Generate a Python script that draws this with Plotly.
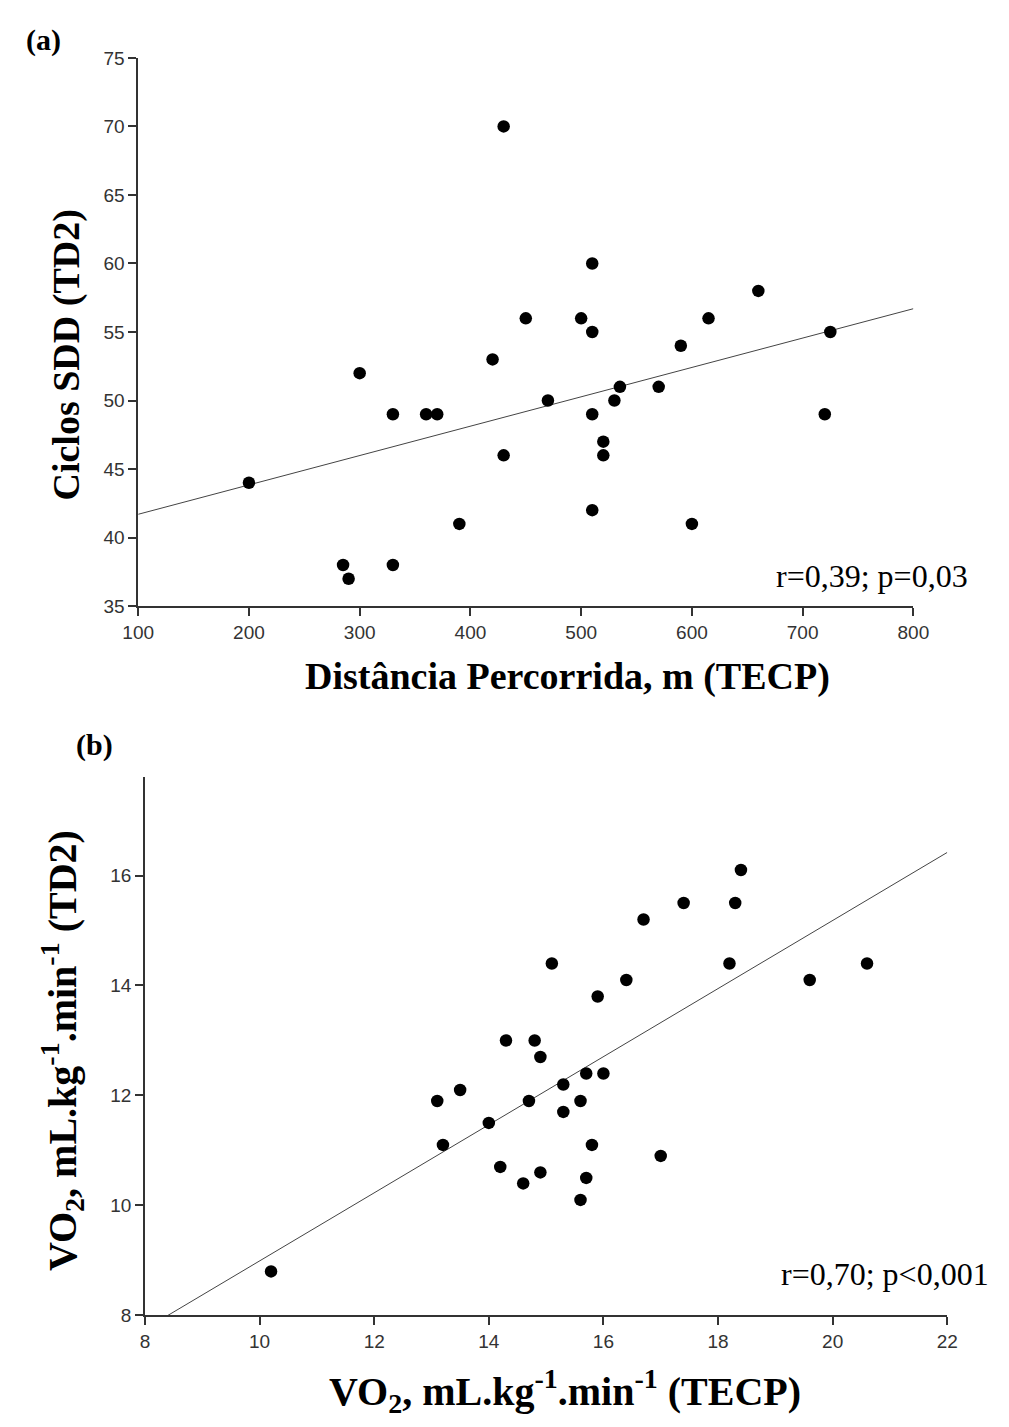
import plotly.graph_objects as go

# Panel (a)
dist_m = [200, 285, 290, 300, 330, 330, 360, 370, 390, 420, 430, 430, 450, 470, 500,
          510, 510, 510, 510, 520, 520, 530, 535, 570, 590, 600, 615, 660, 720, 725]
ciclos_sdd = [44, 38, 37, 52, 49, 38, 49, 49, 41, 53, 70, 46, 56, 50, 56,
              60, 55, 49, 42, 47, 46, 50, 51, 51, 54, 41, 56, 58, 49, 55]
fit_a_x = [100, 800]
fit_a_y = [41.7, 56.7]

# Panel (b)
vo2_tecp = [18.4, 17.4, 18.3, 16.7, 15.1, 18.2, 20.6, 16.4, 19.6, 15.9, 14.3, 14.8,
            14.9, 15.7, 16.0, 15.3, 13.1, 13.5, 14.7, 15.6, 15.3, 14.0, 13.2, 15.8,
            17.0, 14.2, 14.9, 14.6, 15.7, 15.6, 10.2]
vo2_td2 = [16.1, 15.5, 15.5, 15.2, 14.4, 14.4, 14.4, 14.1, 14.1, 13.8, 13.0, 13.0,
           12.7, 12.4, 12.4, 12.2, 11.9, 12.1, 11.9, 11.9, 11.7, 11.5, 11.1, 11.1,
           10.9, 10.7, 10.6, 10.4, 10.5, 10.1, 8.8]
fit_b_x = [8.4, 22.0]
fit_b_y = [8.0, 16.42]

# page is 1009x1427; the browser adds an 8px body margin around the figure
MARGIN = 8
W, H = 1009 - 2 * MARGIN, 1427 - 2 * MARGIN
SERIF = "Liberation Serif, Times New Roman, serif"
SANS = "Liberation Sans, Arial, sans-serif"


def px(x):
    return (x - MARGIN) / W


def py(y):
    return 1 - (y - MARGIN) / H


fig = go.Figure()
fig.add_trace(go.Scatter(x=fit_a_x, y=fit_a_y, mode="lines",
                         line=dict(color="#444444", width=1), xaxis="x", yaxis="y",
                         showlegend=False, hoverinfo="skip"))
fig.add_trace(go.Scatter(x=dist_m, y=ciclos_sdd, mode="markers",
                         marker=dict(color="black", size=12.5), xaxis="x", yaxis="y",
                         showlegend=False, cliponaxis=False))
fig.add_trace(go.Scatter(x=fit_b_x, y=fit_b_y, mode="lines",
                         line=dict(color="#444444", width=1), xaxis="x2", yaxis="y2",
                         showlegend=False, hoverinfo="skip"))
fig.add_trace(go.Scatter(x=vo2_tecp, y=vo2_td2, mode="markers",
                         marker=dict(color="black", size=12.5), xaxis="x2", yaxis="y2",
                         showlegend=False, cliponaxis=False))

axis_common = dict(showgrid=False, zeroline=False, showline=True, linecolor="#333333",
                   linewidth=1.5, ticks="outside", ticklen=8, tickwidth=1.5,
                   tickcolor="#333333", tickfont=dict(family=SANS, size=19, color="#333333"))

fig.update_layout(
    width=W, height=H,
    margin=dict(l=0, r=0, t=0, b=0),
    paper_bgcolor="white", plot_bgcolor="white",
    showlegend=False,
    xaxis=dict(domain=[px(126), px(927)], range=[100, 800], dtick=100, tick0=100,
               anchor="y", **axis_common),
    yaxis=dict(domain=[py(605), py(48.5)], range=[35, 75], dtick=5, tick0=35,
               anchor="x", **axis_common),
    xaxis2=dict(domain=[px(133), px(962)], range=[8, 22], dtick=2, tick0=8,
                anchor="y2", **axis_common),
    yaxis2=dict(domain=[py(1325), py(778)], range=[8, 17.8], dtick=2, tick0=8,
                anchor="x2", **axis_common),
)

annotations = [
    dict(text="<b>(a)</b>", x=px(28), y=py(30), size=30),
    dict(text="<b>(b)</b>", x=px(81), y=py(746), size=30),
    dict(text="<b>Distância Percorrida, m (TECP)</b>", x=px(570), y=py(676), size=38),
    dict(text="<b>Ciclos SDD (TD2)</b>", x=px(52), y=py(350), size=38, angle=-90),
    dict(text="<b>VO<sub>2</sub>, mL.kg<sup>-1</sup>.min<sup>-1</sup> (TECP)</b>",
         x=px(567), y=py(1402), size=40),
    dict(text="<b>VO<sub>2</sub>, mL.kg<sup>-1</sup>.min<sup>-1</sup> (TD2)</b>",
         x=px(48), y=py(1056), size=40, angle=-90),
]
for a in annotations:
    fig.add_annotation(text=a["text"], x=a["x"], y=a["y"], xref="paper", yref="paper",
                       showarrow=False, xanchor="center", yanchor="middle",
                       textangle=a.get("angle", 0),
                       font=dict(family=SERIF, size=a["size"], color="black"))

fig.add_annotation(text="r=0,39; p=0,03", x=px(986), y=py(574), xref="paper", yref="paper",
                   showarrow=False, xanchor="right", yanchor="middle",
                   font=dict(family=SERIF, size=32, color="black"))
fig.add_annotation(text="r=0,70; p&lt;0,001", x=px(1007), y=py(1283), xref="paper",
                   yref="paper", showarrow=False, xanchor="right", yanchor="middle",
                   font=dict(family=SERIF, size=32, color="black"))

fig.write_html("out.html")
